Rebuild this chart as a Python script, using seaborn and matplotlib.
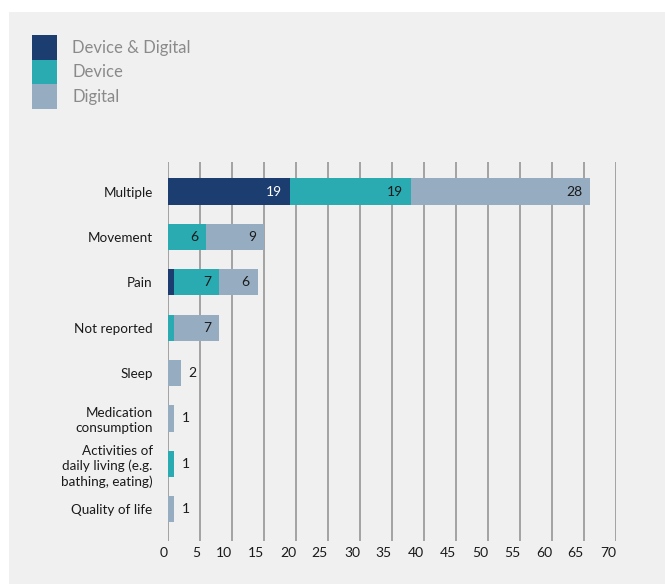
import numpy as np
import pandas as pd
import matplotlib
matplotlib.use("Agg")
import matplotlib.pyplot as plt
from matplotlib.patches import Patch, Rectangle
import seaborn as sns

# Outcome categories and the number of studies per technology type
categories = [
    "Multiple",
    "Movement",
    "Pain",
    "Not reported",
    "Sleep",
    "Medication\nconsumption",
    "Activities of\ndaily living (e.g.\nbathing, eating)",
    "Quality of life",
]
device_and_digital = [19, 0, 1, 0, 0, 0, 0, 0]
device = [19, 6, 7, 1, 0, 0, 1, 0]
digital = [28, 9, 6, 7, 2, 1, 0, 1]

series_names = ["Device & Digital", "Device", "Digital"]
x_ticks = list(range(0, 75, 5))

colors = {"Device & Digital": "#1c3d6f", "Device": "#2aaab1", "Digital": "#96acc1"}
TEXT = "#1a1a1a"

sns.set_theme(style="white")
plt.rcParams["font.family"] = ["Lato", "DejaVu Sans"]

df = pd.DataFrame({
    "Category": categories,
    "Device & Digital": device_and_digital,
    "Device": device,
    "Digital": digital,
})
# cumulative ends of each stacked segment
df["end_dd"] = df["Device & Digital"]
df["end_dev"] = df["end_dd"] + df["Device"]
df["end_dig"] = df["end_dev"] + df["Digital"]

fig = plt.figure(figsize=(6.65, 5.84), dpi=100, facecolor="white")
fig.patches.append(Rectangle((9 / 665, 0), 1, 1 - 12 / 584, transform=fig.transFigure,
                             facecolor="#f0f0f0", edgecolor="none", zorder=-10))
ax = fig.add_axes([168 / 665, 43 / 584, 448 / 665, 379 / 584])
ax.set_facecolor("none")

# stacked bars drawn as overlapping cumulative totals, widest first
bar_kw = dict(y="Category", orient="h", width=0.58, saturation=1, ax=ax, linewidth=0)
sns.barplot(data=df, x="end_dig", color=colors["Digital"], **bar_kw)
sns.barplot(data=df, x="end_dev", color=colors["Device"], **bar_kw)
sns.barplot(data=df, x="end_dd", color=colors["Device & Digital"], **bar_kw)

# value labels
pad_pt = 8 * 72 / 100
for i, row in df.iterrows():
    segs = [("Device & Digital", row["end_dd"]), ("Device", row["end_dev"]), ("Digital", row["end_dig"])]
    nonzero = [(n, row[n], end) for n, end in segs if row[n] > 0]
    for name, val, end in nonzero:
        if val >= 3:
            ax.annotate(str(val), xy=(end, i), xytext=(-pad_pt, 0), textcoords="offset points",
                        ha="right", va="center", fontsize=10,
                        color="white" if name == "Device & Digital" else TEXT)
        elif len(nonzero) == 1:
            ax.annotate(str(val), xy=(end, i), xytext=(pad_pt * 0.9, 0), textcoords="offset points",
                        ha="left", va="center", fontsize=10, color=TEXT)

ax.set_xlim(0, 70)
ax.set_ylim(len(categories) - 1 + 0.7, -0.65)
ax.set_xticks(x_ticks)
ax.set_xticklabels([str(t) for t in x_ticks], ha="right", fontsize=10, color=TEXT)
ax.set_yticks(range(len(categories)))
ax.set_yticklabels(categories, fontsize=9.7, color=TEXT, linespacing=1.3)
ax.tick_params(axis="x", length=0, pad=4.5)
ax.tick_params(axis="y", length=0, pad=11)
ax.set_xlabel("")
ax.set_ylabel("")
ax.xaxis.grid(True, color="#8e8e8e", linewidth=1.1)
ax.yaxis.grid(False)
ax.set_axisbelow(True)
for s in ax.spines.values():
    s.set_visible(False)

handles = [Patch(facecolor=colors[n], edgecolor="none", label=n) for n in series_names]
fs = 12
fs_px = fs * 100 / 72
row_px = 24.5
fig.legend(handles=handles, loc="upper left", bbox_to_anchor=(32 / 665, 1 - 35 / 584),
           bbox_transform=fig.transFigure, frameon=False, fontsize=fs,
           handlelength=25 / fs_px, handleheight=(row_px / fs_px - 0.245) / 0.65,
           labelspacing=0, handletextpad=15 / fs_px, borderpad=0, borderaxespad=0,
           labelcolor="#8a8a8a")

fig.savefig("out.png", dpi=100, facecolor=fig.get_facecolor())
